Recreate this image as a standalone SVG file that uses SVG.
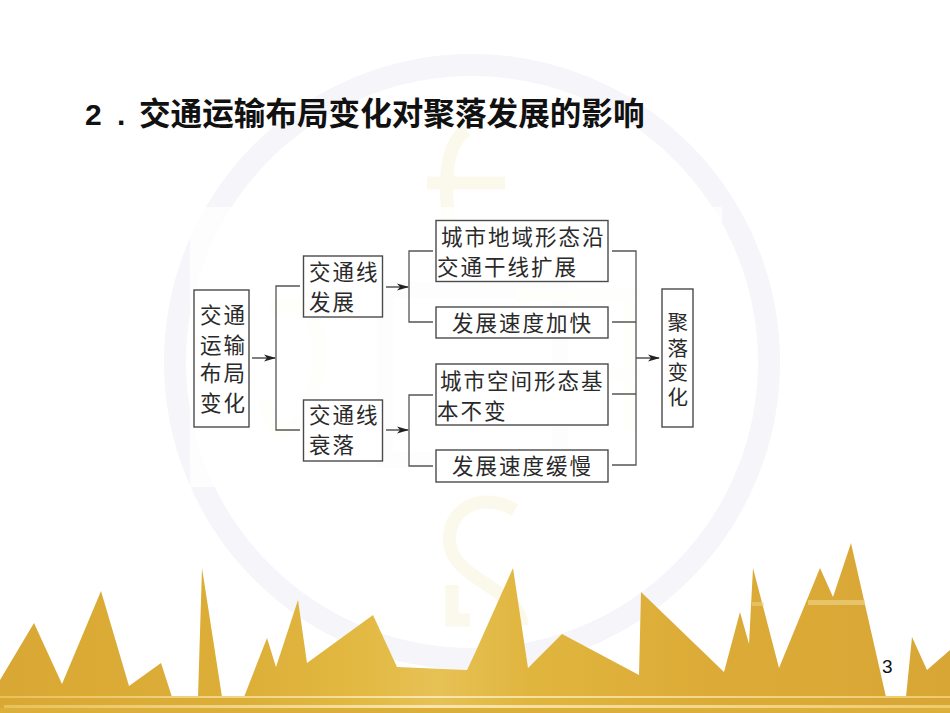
<svg xmlns="http://www.w3.org/2000/svg" width="950" height="713" viewBox="0 0 950 713">
<style>
.t{font-family:"Noto Sans CJK SC","Liberation Sans",sans-serif;font-size:21.5px;fill:#2a2a2a;letter-spacing:2px}
.b{fill:#fff;stroke:#4a4a4a;stroke-width:1.4}
.c{fill:none;stroke:#555;stroke-width:1.3}
.wm{fill:none;stroke:#fbf8ec;stroke-width:13}
</style>
<defs>
<marker id="arr" markerWidth="12" markerHeight="8" refX="11" refY="4" orient="auto" markerUnits="userSpaceOnUse"><path d="M0 .5L12 4L0 7.500L3 4Z" fill="#222"/></marker>
<linearGradient id="gold" x1="0" y1="0" x2="1" y2="0">
<stop offset="0" stop-color="#d9a834"/><stop offset=".25" stop-color="#dcae38"/><stop offset=".38" stop-color="#e2b942"/><stop offset=".46" stop-color="#e6c155"/><stop offset=".56" stop-color="#e0b53e"/><stop offset=".75" stop-color="#dcab37"/><stop offset="1" stop-color="#d8a635"/>
</linearGradient>
<linearGradient id="band" x1="0" y1="0" x2="1" y2="0">
<stop offset="0" stop-color="#e8c15a"/><stop offset=".45" stop-color="#f7e6b0"/><stop offset="1" stop-color="#eecb6c"/>
</linearGradient>
</defs>
<rect width="950" height="713" fill="#fff"/>
<g id="watermark">
<circle cx="472" cy="362" r="297" fill="none" stroke="#f5f5fa" stroke-width="22"/>
<path d="M385 290H560V460H385Z" fill="none" stroke="#f5f5fa" stroke-width="16"/>
<path class="wm" d="M427 183H505M466 130C440 150 445 200 452 240"/>
<path class="wm" d="M515 295H640M520 375H640M630 300V430"/>
<path class="wm" d="M270 310C320 290 330 350 310 400C300 440 270 440 265 400"/>
<path class="wm" d="M515 510C480 490 445 510 450 545C455 580 520 590 522 625M452 585V620H470"/>
</g>
<rect x="190" y="207" width="532" height="280" fill="#fff" opacity=".78"/>
<g id="mountains">
<path fill="url(#gold)" d="M0 680L34 623L62 684L101 591L129 686L161 663L172 697H198L202 568L222 697H244L267 638L276 667L298 600L307 663L373 615L397 667L467 670L475 653L513 568L528 668L562 634L639 675L641 592L724 672L740 612L749 644L753 568L779 668L820 568L833 597L851 543L886 697H906L912 637L927 670L950 650V713H0Z"/>
<rect x="0" y="696" width="950" height="2" fill="url(#band)"/>
<rect x="4" y="705" width="946" height="3" fill="url(#band)"/>
<rect x="0" y="708" width="950" height="5" fill="#dcae3a"/>
<rect x="752" y="602" width="12" height="4" fill="#f0d68c" opacity=".5"/>
<rect x="808" y="600" width="57" height="5" fill="#f0d68c" opacity=".6"/>
</g>
<text id="title" x="85" y="125" style="font-family:'Noto Sans CJK SC','Liberation Sans',sans-serif;font-size:31.6px;font-weight:700;fill:#111"><tspan x="85" style="font-family:'Liberation Sans',sans-serif;font-size:30px">2</tspan><tspan x="117" style="font-family:'Liberation Sans',sans-serif;font-size:30px">.</tspan><tspan x="139">交通运输布局变化对聚落发展的影响</tspan></text>
<g id="connectors">
<path class="c" d="M300 286H276V430H300M252 358H275" marker-end="url(#arr)"/>
<path class="c" d="M433 251H409V322H433M386 287H408" marker-end="url(#arr)"/>
<path class="c" d="M433 395H409V466H433M386 430H408" marker-end="url(#arr)"/>
<path class="c" d="M612 251H636V465H612M612 322H636M612 394H636M636 358H659" marker-end="url(#arr)"/>
</g>
<g id="n1"><rect class="b" x="194" y="290" width="55" height="137"/>
<text class="t" x="200" y="323">交通</text><text class="t" x="200" y="353">运输</text><text class="t" x="200" y="381">布局</text><text class="t" x="200" y="411">变化</text></g>
<g id="n2"><rect class="b" x="303.500" y="256" width="79" height="61"/>
<text class="t" x="309" y="280">交通线</text><text class="t" x="309" y="310">发展</text></g>
<g id="n3"><rect class="b" x="303.500" y="400" width="79" height="61"/>
<text class="t" x="309" y="423">交通线</text><text class="t" x="309" y="453">衰落</text></g>
<g id="n4"><rect class="b" x="436" y="220.500" width="172" height="61"/>
<text class="t" x="441" y="245">城市地域形态沿</text><text class="t" x="437" y="275">交通干线扩展</text></g>
<g id="n5"><rect class="b" x="436" y="307" width="172" height="31"/>
<text class="t" x="452" y="331">发展速度加快</text></g>
<g id="n6"><rect class="b" x="436" y="364" width="172" height="61"/>
<text class="t" x="440" y="389">城市空间形态基</text><text class="t" x="437" y="419">本不变</text></g>
<g id="n7"><rect class="b" x="436" y="450" width="172" height="32"/>
<text class="t" x="452" y="474">发展速度缓慢</text></g>
<g id="n8"><rect class="b" x="662" y="289" width="31" height="138"/>
<text class="t" style="font-size:20.500px;letter-spacing:0"><tspan x="667.500" y="330">聚</tspan><tspan x="667.500" y="356">落</tspan><tspan x="667.500" y="380">变</tspan><tspan x="667.500" y="405">化</tspan></text></g>
<text id="page" x="882" y="673" style="font-family:'Liberation Sans',sans-serif;font-size:19px;fill:#111">3</text>
</svg>
